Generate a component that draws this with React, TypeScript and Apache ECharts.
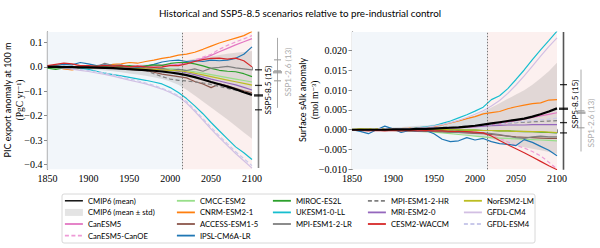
import React, { useEffect, useRef } from "react";
import * as echarts from "echarts";

// ---------------- data ----------------
const years = [1850,1860,1870,1880,1890,1900,1910,1920,1930,1940,1950,1960,1970,1980,1990,2000,2010,2020,2030,2040,2050,2060,2070,2080,2090,2100];

// PIC export anomaly at 100 m (PgC/yr)
const picMean = [0.000,0.000,-0.001,-0.001,-0.002,-0.002,-0.003,-0.004,-0.005,-0.007,-0.009,-0.011,-0.013,-0.016,-0.019,-0.023,-0.028,-0.034,-0.042,-0.052,-0.062,-0.071,-0.081,-0.092,-0.104,-0.115];
const picStd = [0.003,0.004,0.005,0.006,0.007,0.008,0.009,0.011,0.013,0.015,0.018,0.020,0.023,0.027,0.031,0.037,0.045,0.060,0.075,0.090,0.105,0.120,0.135,0.150,0.165,0.180];
const picCanESM5 = [0.000,0.001,-0.002,0.001,0.002,0.000,0.001,-0.001,0.002,0.000,0.001,0.003,0.002,0.004,0.006,0.008,0.010,0.015,0.024,0.035,0.047,0.062,0.076,0.090,0.103,0.116];
const picCanOE = [0.000,0.002,-0.002,0.000,0.003,0.000,0.002,0.000,0.003,0.000,0.002,0.005,0.003,0.005,0.008,0.010,0.012,0.018,0.028,0.040,0.052,0.072,0.088,0.102,0.115,0.128];
const picCMCC = [-0.003,-0.005,-0.002,0.000,0.002,-0.001,0.000,-0.002,0.001,-0.002,0.000,-0.003,-0.002,-0.004,-0.006,-0.008,-0.010,-0.014,-0.020,-0.026,-0.032,-0.038,-0.044,-0.050,-0.056,-0.062];
const picCNRM = [0.005,0.000,-0.008,-0.012,-0.005,0.000,0.005,0.003,0.010,0.012,0.018,0.015,0.022,0.028,0.035,0.040,0.048,0.052,0.060,0.072,0.085,0.098,0.108,0.118,0.128,0.145];
const picACCESS = [0.000,-0.003,0.002,-0.002,0.000,-0.004,-0.002,-0.006,-0.004,-0.008,-0.010,-0.012,-0.015,-0.022,-0.030,-0.035,-0.040,-0.045,-0.060,-0.070,-0.085,-0.070,-0.078,-0.088,-0.098,-0.106];
const picIPSL = [0.005,0.006,0.010,0.008,0.018,0.012,0.005,0.008,0.005,0.002,0.000,-0.003,0.002,0.010,0.020,0.025,0.028,0.022,0.025,0.022,0.028,0.025,0.028,0.035,0.052,0.082];
const picMIROC = [-0.005,-0.010,-0.004,0.000,0.002,0.000,0.003,0.001,0.004,0.002,0.005,0.000,0.004,0.008,0.006,0.014,0.018,0.018,0.012,0.004,-0.006,-0.014,-0.018,-0.020,-0.028,-0.040];
const picUKESM = [0.002,0.000,0.000,-0.002,-0.005,-0.010,-0.018,-0.026,-0.032,-0.037,-0.043,-0.049,-0.055,-0.062,-0.070,-0.085,-0.105,-0.130,-0.160,-0.192,-0.228,-0.262,-0.295,-0.328,-0.352,-0.380];
const picMPILR = [0.003,0.005,-0.002,0.000,0.003,-0.002,0.000,0.015,0.005,0.008,-0.003,0.002,-0.005,-0.010,-0.005,-0.015,-0.010,-0.015,-0.008,-0.018,-0.005,-0.002,0.002,-0.004,-0.008,-0.012];
const picMPIHR = [0.000,0.002,0.000,-0.002,0.000,0.002,0.000,-0.003,0.000,-0.002,-0.005,-0.008,-0.015,-0.028,-0.040,-0.050,-0.055,-0.058,-0.062,-0.066,-0.072,-0.080,-0.088,-0.096,-0.104,-0.110];
const picMRI = [0.000,0.000,0.001,0.000,-0.001,0.000,-0.002,-0.002,-0.003,-0.004,-0.005,-0.006,-0.008,-0.010,-0.012,-0.014,-0.018,-0.024,-0.032,-0.041,-0.050,-0.058,-0.066,-0.074,-0.084,-0.095];
const picCESM2 = [0.005,0.010,0.015,0.012,0.005,0.005,0.002,0.006,0.003,0.005,0.000,0.003,0.000,-0.002,0.000,0.005,0.005,0.012,0.022,0.030,0.035,0.036,0.032,0.036,0.025,0.000];
const picNorESM = [0.000,-0.001,0.000,-0.001,-0.002,-0.002,-0.003,-0.003,-0.004,-0.005,-0.006,-0.007,-0.008,-0.010,-0.012,-0.014,-0.016,-0.020,-0.026,-0.033,-0.040,-0.047,-0.054,-0.061,-0.068,-0.075];
const picGFDLCM4 = [0.000,-0.002,-0.005,-0.009,-0.014,-0.019,-0.025,-0.031,-0.038,-0.046,-0.054,-0.062,-0.070,-0.080,-0.091,-0.105,-0.122,-0.148,-0.182,-0.218,-0.255,-0.290,-0.323,-0.355,-0.385,-0.415];
const picGFDLESM4 = [0.000,-0.001,-0.003,-0.006,-0.010,-0.015,-0.020,-0.026,-0.033,-0.041,-0.049,-0.057,-0.066,-0.076,-0.088,-0.101,-0.118,-0.142,-0.176,-0.212,-0.248,-0.283,-0.316,-0.348,-0.376,-0.405];

// Surface sAlk anomaly (mol m-3)
const alkMean = [0,0,0,0,0,0.0001,0.0001,0.0001,0.0002,0.0002,0.0003,0.0004,0.0005,0.0006,0.0008,0.0010,0.0013,0.0016,0.0019,0.0022,0.0025,0.0028,0.0033,0.0039,0.0046,0.0054];
const alkStd = [0.0002,0.0003,0.0003,0.0004,0.0004,0.0005,0.0006,0.0007,0.0008,0.0009,0.0010,0.0012,0.0014,0.0017,0.0021,0.0026,0.0032,0.0040,0.0048,0.0056,0.0064,0.0072,0.0081,0.0091,0.0102,0.0115];
const alkCanESM5 = [0,0,0,0,0.0001,0.0001,0.0001,0.0001,0.0002,0.0002,0.0002,0.0003,0.0004,0.0005,0.0006,0.0007,0.0009,0.0012,0.0015,0.0019,0.0023,0.0027,0.0031,0.0035,0.0039,0.0043];
const alkCanOE = [0,0,0,0.0001,0,0.0001,0,0.0001,0,0,-0.0001,-0.0001,-0.0002,-0.0003,-0.0004,-0.0006,-0.0009,-0.0014,-0.0022,-0.0031,-0.0040,-0.0046,-0.0055,-0.0066,-0.0082,-0.0099];
const alkCMCC = [0,0,-0.0001,0,-0.0002,-0.0002,-0.0003,-0.0003,-0.0004,-0.0005,-0.0006,-0.0008,-0.0010,-0.0012,-0.0014,-0.0016,-0.0018,-0.0020,-0.0021,-0.0022,-0.0023,-0.0024,-0.0025,-0.0026,-0.0027,-0.0028];
const alkCNRM = [0,0.0001,0,0.0001,0.0002,0.0002,0.0003,0.0004,0.0005,0.0006,0.0008,0.0012,0.0017,0.0022,0.0028,0.0033,0.0040,0.0043,0.0046,0.0053,0.0058,0.0062,0.0066,0.0068,0.0075,0.0076];
const alkACCESS = [0,-0.0001,0,-0.0001,-0.0001,-0.0002,-0.0002,-0.0003,-0.0003,-0.0004,-0.0004,-0.0005,-0.0006,-0.0007,-0.0008,-0.0009,-0.0010,-0.0012,-0.0014,-0.0016,-0.0018,-0.0019,-0.0020,-0.0021,-0.0022,-0.0022];
const alkIPSL = [0,-0.0004,-0.0010,0.0000,0.0009,0.0002,-0.0007,-0.0002,-0.0004,-0.0002,-0.0010,-0.0024,-0.0030,-0.0028,-0.0020,-0.0026,-0.0022,-0.0030,-0.0035,-0.0037,-0.0040,-0.0025,-0.0032,-0.0042,-0.0052,-0.0066];
const alkMIROC = [0,0.0001,0,0.0001,0,0.0001,0,0.0001,0,0,0,-0.0001,0,-0.0001,-0.0001,-0.0001,-0.0002,-0.0002,-0.0003,-0.0003,-0.0004,-0.0005,-0.0005,-0.0006,-0.0007,-0.0008];
const alkUKESM = [0,0,0,0,0.0001,0.0001,0.0002,0.0003,0.0005,0.0007,0.0010,0.0016,0.0022,0.0030,0.0038,0.0047,0.0057,0.0076,0.0086,0.0104,0.0127,0.0151,0.0177,0.0202,0.0225,0.0249];
const alkMPILR = [0,-0.0001,0,-0.0002,0,-0.0001,-0.0002,0,-0.0003,-0.0002,-0.0004,-0.0005,-0.0006,-0.0007,-0.0006,-0.0008,-0.0008,-0.0010,-0.0012,-0.0016,-0.0020,-0.0022,-0.0018,-0.0016,-0.0018,-0.0018];
const alkMPIHR = [0,0,0.0001,0.0001,0.0002,0.0002,0.0003,0.0003,0.0004,0.0004,0.0005,0.0006,0.0007,0.0008,0.0009,0.0010,0.0011,0.0013,0.0015,0.0017,0.0018,0.0019,0.0020,0.0021,0.0022,0.0023];
const alkMRI = [0,0,0.0001,0.0001,0.0001,0.0002,0.0002,0.0002,0.0003,0.0003,0.0004,0.0004,0.0005,0.0006,0.0007,0.0008,0.0009,0.0010,0.0011,0.0012,0.0012,0.0012,0.0013,0.0013,0.0013,0.0013];
const alkCESM2 = [-0.0001,-0.0002,-0.0003,-0.0002,-0.0003,-0.0002,-0.0003,-0.0002,-0.0003,-0.0002,-0.0003,-0.0003,-0.0004,-0.0004,-0.0005,-0.0006,-0.0008,-0.0016,-0.0027,-0.0038,-0.0048,-0.0058,-0.0069,-0.0080,-0.0091,-0.0101];
const alkNorESM = [0.0001,0.0002,0.0002,0.0003,0.0002,0.0003,0.0002,0.0003,0.0002,0.0002,0.0001,0.0001,0,0,-0.0001,-0.0001,-0.0002,-0.0002,-0.0003,-0.0003,-0.0004,-0.0004,-0.0005,-0.0005,-0.0006,-0.0007];
const alkGFDLCM4 = [0,0,0,0.0001,0.0001,0.0002,0.0002,0.0003,0.0004,0.0006,0.0009,0.0013,0.0018,0.0024,0.0031,0.0039,0.0048,0.0060,0.0074,0.0092,0.0113,0.0136,0.0161,0.0186,0.0210,0.0232];
const alkGFDLESM4 = [0,0,0.0001,0.0002,0.0003,0.0003,0.0003,0.0004,0.0004,0.0005,0.0005,0.0006,0.0007,0.0008,0.0009,0.0010,0.0011,0.0013,0.0015,0.0017,0.0019,0.0021,0.0023,0.0025,0.0027,0.0029];

// end-of-century spread indicators (2100)
const picSsp585Range = [-0.415, 0.145];
const picSsp585Ticks = [-0.012, -0.076, -0.176];
const picSsp585Mean = [-0.117];
const picSsp126Range = [-0.168, 0.119];
const picSsp126Ticks = [0.029, -0.016, -0.057];
const picSsp126Mean = [-0.022];
const alkSsp585Range = [-0.0101, 0.0247];
const alkSsp585Ticks = [0.0114, 0.0018, -0.0008];
const alkSsp585Mean = [0.0053];
const alkSsp126Range = [-0.0055, 0.0152];
const alkSsp126Ticks = [0.0048, 0.0005];
const alkSsp126Mean = [0.0043];

const picTickLabels = [-0.4, -0.3, -0.2, -0.1, 0, 0.1];
const alkTickLabels = [-0.01, -0.005, 0, 0.005, 0.01, 0.015, 0.02];

// ---------------- styles ----------------
const MODELS = [
  { name: "CanESM5", color: "#e377c2", dash: false, pic: picCanESM5, alk: alkCanESM5 },
  { name: "CanESM5-CanOE", color: "#ee9ad6", dash: true, pic: picCanOE, alk: alkCanOE },
  { name: "CMCC-ESM2", color: "#98df8a", dash: false, pic: picCMCC, alk: alkCMCC },
  { name: "CNRM-ESM2-1", color: "#ff7f0e", dash: false, pic: picCNRM, alk: alkCNRM },
  { name: "ACCESS-ESM1-5", color: "#8c564b", dash: false, pic: picACCESS, alk: alkACCESS },
  { name: "IPSL-CM6A-LR", color: "#1f77b4", dash: false, pic: picIPSL, alk: alkIPSL },
  { name: "MIROC-ES2L", color: "#2ca02c", dash: false, pic: picMIROC, alk: alkMIROC },
  { name: "UKESM1-0-LL", color: "#17becf", dash: false, pic: picUKESM, alk: alkUKESM },
  { name: "MPI-ESM1-2-LR", color: "#7f7f7f", dash: false, pic: picMPILR, alk: alkMPILR },
  { name: "MPI-ESM1-2-HR", color: "#7f7f7f", dash: true, pic: picMPIHR, alk: alkMPIHR },
  { name: "MRI-ESM2-0", color: "#9467bd", dash: false, pic: picMRI, alk: alkMRI },
  { name: "CESM2-WACCM", color: "#d62728", dash: false, pic: picCESM2, alk: alkCESM2 },
  { name: "NorESM2-LM", color: "#bcbd22", dash: false, pic: picNorESM, alk: alkNorESM },
  { name: "GFDL-CM4", color: "#d2bfe3", dash: false, pic: picGFDLCM4, alk: alkGFDLCM4 },
  { name: "GFDL-ESM4", color: "#c9c9ea", dash: true, pic: picGFDLESM4, alk: alkGFDLESM4 },
];

const LEGEND_COLS = [
  ["CMIP6 (mean)", "CMIP6 (mean ± std)", "CanESM5", "CanESM5-CanOE"],
  ["CMCC-ESM2", "CNRM-ESM2-1", "ACCESS-ESM1-5", "IPSL-CM6A-LR"],
  ["MIROC-ES2L", "UKESM1-0-LL", "MPI-ESM1-2-LR"],
  ["MPI-ESM1-2-HR", "MRI-ESM2-0", "CESM2-WACCM"],
  ["NorESM2-LM", "GFDL-CM4", "GFDL-ESM4"],
];
const LEGEND_X = [64, 176, 272, 367, 463];

const SANS = "Lato, 'DejaVu Sans', sans-serif";
const SERIF = "'Liberation Serif', 'DejaVu Serif', serif";
const AXIS_GRAY = "#8a8a8a";
const BAND_FILL = "rgba(90,90,90,0.16)";

const fmtNum = (d: number) => (v: number) => {
  const s = Math.abs(v).toFixed(d);
  return (v < -1e-9 ? "\u2212" : "") + s;
};

function pairs(vals: number[]) {
  return years.map((y, i) => [y, vals[i]]);
}

function bandSeries(xi: number, mean: number[], std: number[]) {
  const upper = mean.map((m, i) => m + std[i]);
  const lower = mean.map((m, i) => m - std[i]);
  return {
    type: "custom",
    name: "CMIP6 (mean ± std)",
    xAxisIndex: xi,
    yAxisIndex: xi,
    silent: true,
    z: 2,
    itemStyle: { color: "#e4e4e4" },
    data: [[years[0], mean[0]]],
    renderItem: (_p: any, api: any) => {
      const pts: number[][] = [];
      years.forEach((y, i) => pts.push(api.coord([y, upper[i]])));
      for (let i = years.length - 1; i >= 0; i--) pts.push(api.coord([years[i], lower[i]]));
      return { type: "polygon", shape: { points: pts }, style: { fill: BAND_FILL } };
    },
  };
}

function backgroundSeries(xi: number) {
  return {
    type: "line",
    name: "bg" + xi,
    xAxisIndex: xi,
    yAxisIndex: xi,
    data: [],
    symbol: "none",
    silent: true,
    z: 1,
    markArea: {
      silent: true,
      data: [
        [{ xAxis: 1850, itemStyle: { color: "#f2f6fa" } }, { xAxis: 2015 }],
        [{ xAxis: 2015, itemStyle: { color: "#fcf0ef" } }, { xAxis: 2100 }],
      ],
    },
    markLine: {
      silent: true,
      symbol: ["none", "none"],
      label: { show: false },
      lineStyle: { type: [1.5, 1.5], color: "#777", width: 1 },
      data: [{ xAxis: 2015 }],
    },
  };
}

function indicatorSeries(xi: number, xPos: number, range: number[], ticks: number[], mean: number[], lineColor: string, tickColor: string, lw: number) {
  return [
    {
      type: "line", name: "ind-line-" + xi + "-" + xPos, xAxisIndex: xi, yAxisIndex: xi,
      data: range.map((v) => [xPos, v]), symbol: "none", silent: true,
      lineStyle: { color: lineColor, width: lw }, z: 3,
    },
    {
      type: "scatter", name: "ind-ticks-" + xi + "-" + xPos, xAxisIndex: xi, yAxisIndex: xi,
      data: ticks.map((v) => [xPos, v]), symbol: "rect", symbolSize: [7, 1.3], silent: true,
      itemStyle: { color: tickColor }, z: 4,
    },
    {
      type: "scatter", name: "ind-mean-" + xi + "-" + xPos, xAxisIndex: xi, yAxisIndex: xi,
      data: mean.map((v) => [xPos, v]), symbol: "rect", symbolSize: [9, 2.4], silent: true,
      itemStyle: { color: tickColor }, z: 4,
    },
  ];
}

const GRID_TOP = 32;
const GRID_H = 137.3;

function mainAxes(gi: number, min: number, max: number, labels: number[], dec: number) {
  const x = {
    type: "value", gridIndex: gi, min: 1850, max: 2100, interval: 50,
    axisLine: { show: true, lineStyle: { color: AXIS_GRAY, width: 1.3 } },
    axisTick: { show: true, length: 3.5, lineStyle: { color: AXIS_GRAY } },
    axisLabel: { fontFamily: SERIF, fontSize: 10, color: "#000", margin: 4, formatter: (v: number) => String(v) },
    splitLine: { show: false },
  };
  const y = {
    type: "value", gridIndex: gi, min, max,
    axisLine: { show: true, lineStyle: { color: AXIS_GRAY, width: 1.3 } },
    axisTick: { show: true, length: 3.5, lineStyle: { color: AXIS_GRAY }, customValues: labels },
    axisLabel: { fontFamily: SERIF, fontSize: 10, color: "#000", margin: 5, customValues: labels, formatter: fmtNum(dec) },
    splitLine: { show: false },
  };
  return { x, y };
}

export default function App() {
  const ref = useRef<HTMLDivElement>(null);
  useEffect(() => {
    if (!ref.current) return;
    const chart = echarts.init(ref.current, undefined, { renderer: "svg" });

    const L = mainAxes(0, -0.42, 0.143, picTickLabels, 1);
    const R = mainAxes(1, -0.01, 0.0247, alkTickLabels, 3);
    const hiddenX = (gi: number) => ({ type: "value", gridIndex: gi, min: 0, max: 40, show: false });
    const hiddenY = (gi: number, min: number, max: number) => ({ type: "value", gridIndex: gi, min, max, show: false });

    const modelSeries = (xi: number, key: "pic" | "alk") =>
      MODELS.map((m) => ({
        type: "line",
        name: m.name,
        xAxisIndex: xi,
        yAxisIndex: xi,
        data: pairs(m[key]),
        symbol: "none",
        silent: true,
        color: m.color,
        lineStyle: { color: m.color, width: 1.2, type: m.dash ? [4, 2.5] : "solid" },
        z: 3,
      }));

    const meanSeries = (xi: number, vals: number[]) => ({
      type: "line", name: "CMIP6 (mean)", xAxisIndex: xi, yAxisIndex: xi, data: pairs(vals),
      symbol: "none", silent: true, color: "#000", lineStyle: { color: "#000", width: 2.2 }, z: 5,
    });

    const legends = LEGEND_COLS.map((col, ci) => ({
      orient: "vertical",
      left: LEGEND_X[ci],
      top: 195,
      padding: 0,
      itemGap: 0,
      itemWidth: 18,
      itemHeight: 7,
      selectedMode: false,
      itemStyle: { opacity: 0 },
      lineStyle: { width: 1.8 },
      textStyle: { fontFamily: SANS, fontSize: 7.7, color: "#000", lineHeight: 11.6 },
      data: col.map((n) =>
        n === "CMIP6 (mean ± std)"
          ? { name: n, icon: "rect", itemStyle: { color: "#e4e4e4", opacity: 1 } }
          : n === "CMIP6 (mean)"
          ? { name: n, lineStyle: { width: 1.4 } }
          : { name: n }
      ),
    }));

    const option: any = {
      animation: false,
      backgroundColor: "#fff",
      title: {
        text: "Historical and SSP5-8.5 scenarios relative to pre-industrial control",
        left: "center",
        top: 3,
        textStyle: { fontFamily: SANS, fontSize: 9.8, fontWeight: "normal", color: "#000" },
      },
      grid: [
        { left: 47.5, top: GRID_TOP, width: 204.5, height: GRID_H },
        { left: 352, top: GRID_TOP, width: 205, height: GRID_H },
        { left: 254, top: GRID_TOP, width: 40, height: GRID_H },
        { left: 559, top: GRID_TOP, width: 40, height: GRID_H },
      ],
      xAxis: [L.x, R.x, hiddenX(2), hiddenX(3)],
      yAxis: [L.y, R.y, hiddenY(2, -0.42, 0.143), hiddenY(3, -0.01, 0.0247)],
      legend: legends,
      series: [
        backgroundSeries(0),
        backgroundSeries(1),
        bandSeries(0, picMean, picStd),
        bandSeries(1, alkMean, alkStd),
        ...modelSeries(0, "pic"),
        ...modelSeries(1, "alk"),
        meanSeries(0, picMean),
        meanSeries(1, alkMean),
        ...indicatorSeries(2, 4.5, picSsp585Range, picSsp585Ticks, picSsp585Mean, AXIS_GRAY, "#000", 1.6),
        ...indicatorSeries(2, 23.5, picSsp126Range, picSsp126Ticks, picSsp126Mean, "#aaa", "#999", 1),
        ...indicatorSeries(3, 4.5, alkSsp585Range, alkSsp585Ticks, alkSsp585Mean, "#555", "#000", 1.6),
        ...indicatorSeries(3, 22, alkSsp126Range, alkSsp126Ticks, alkSsp126Mean, "#aaa", "#999", 1),
      ],
      graphic: [
        { type: "rect", shape: { x: 62, y: 194, width: 473, height: 49, r: 2 }, style: { fill: "#fff", stroke: "#d8d8d8", lineWidth: 1 }, z: -1, silent: true },
        { type: "text", x: 7.5, y: 100, rotation: Math.PI / 2, style: { text: "PIC export anomaly at 100 m", fontFamily: SANS, fontSize: 9, fill: "#000", align: "center", verticalAlign: "middle" } },
        { type: "text", x: 19.5, y: 100, rotation: Math.PI / 2, style: { text: "(PgC yr\u207B\u00B9)", fontFamily: SERIF, fontSize: 9.5, fill: "#000", align: "center", verticalAlign: "middle" } },
        { type: "text", x: 302.5, y: 100, rotation: Math.PI / 2, style: { text: "Surface sAlk anomaly", fontFamily: SANS, fontSize: 9, fill: "#000", align: "center", verticalAlign: "middle" } },
        { type: "text", x: 314.5, y: 100, rotation: Math.PI / 2, style: { text: "(mol m\u207B\u00B3)", fontFamily: SERIF, fontSize: 9.5, fill: "#000", align: "center", verticalAlign: "middle" } },
        { type: "text", x: 267.5, y: 90, rotation: Math.PI / 2, style: { text: "SSP5-8.5 (15)", fontFamily: SANS, fontSize: 8.2, fill: "#000", align: "center", verticalAlign: "middle" } },
        { type: "text", x: 287.5, y: 72, rotation: Math.PI / 2, style: { text: "SSP1-2.6 (13)", fontFamily: SANS, fontSize: 8.2, fill: "#aaa", align: "center", verticalAlign: "middle" } },
        { type: "text", x: 574.5, y: 104, rotation: Math.PI / 2, style: { text: "SSP5-8.5 (15)", fontFamily: SANS, fontSize: 8.2, fill: "#000", align: "center", verticalAlign: "middle" } },
        { type: "text", x: 590.5, y: 123, rotation: Math.PI / 2, style: { text: "SSP1-2.6 (13)", fontFamily: SANS, fontSize: 8.2, fill: "#aaa", align: "center", verticalAlign: "middle" } },
      ],
    };
    chart.setOption(option);
    return () => chart.dispose();
  }, []);

  return <div ref={ref} style={{ position: "fixed", left: 0, top: 0, width: 600, height: 248 }} />;
}
